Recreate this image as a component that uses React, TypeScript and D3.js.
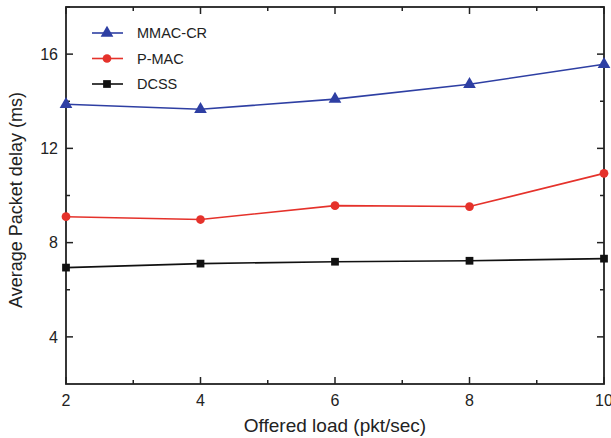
import React, { useRef, useEffect } from 'react';
import * as d3 from 'd3';

const loads = [2, 4, 6, 8, 10];
const mmacCr = [13.87, 13.66, 14.09, 14.72, 15.57];
const pMac = [9.1, 8.98, 9.57, 9.53, 10.94];
const dcss = [6.94, 7.11, 7.19, 7.23, 7.32];
const xTicks = [2, 4, 6, 8, 10];
const yTicks = [4, 8, 12, 16];

const series = [
    { name: 'MMAC-CR', values: mmacCr, color: '#2e3fa3', symbol: d3.symbolTriangle },
    { name: 'P-MAC', values: pMac, color: '#e5322b', symbol: d3.symbolCircle },
    { name: 'DCSS', values: dcss, color: '#111111', symbol: d3.symbolSquare },
];

const App: React.FC = () => {
    const svgRef = useRef<SVGSVGElement | null>(null);
    const width = 611;
    const height = 438;

    useEffect(() => {
        const svg = d3.select(svgRef.current);
        svg.selectAll('*').remove();
        const margin = { top: 7, right: 7, bottom: 54, left: 66 };
        const w = width - margin.left - margin.right;
        const h = height - margin.top - margin.bottom;
        const font = '"Liberation Sans", Arial, sans-serif';

        const g = svg.append('g').attr('transform', `translate(${margin.left},${margin.top})`);

        const x = d3.scaleLinear().domain([2, 10]).range([0, w]);
        const y = d3.scaleLinear().domain([2, 18]).range([h, 0]);

        const minorX = d3.range(3, 10, 2);
        const minorY = [6, 10, 14, 18];

        // frame
        g.append('rect').attr('width', w).attr('height', h)
            .attr('fill', 'none').attr('stroke', '#222').attr('stroke-width', 1.8);

        const tick = (x1: number, y1: number, x2: number, y2: number) =>
            g.append('line').attr('x1', x1).attr('y1', y1).attr('x2', x2).attr('y2', y2)
                .attr('stroke', '#222').attr('stroke-width', 1.5);

        xTicks.forEach(v => { tick(x(v), h, x(v), h - 7); tick(x(v), 0, x(v), 7); });
        minorX.forEach(v => { tick(x(v), h, x(v), h - 4); tick(x(v), 0, x(v), 4); });
        yTicks.forEach(v => { tick(0, y(v), 7, y(v)); tick(w, y(v), w - 7, y(v)); });
        minorY.forEach(v => { tick(0, y(v), 4, y(v)); tick(w, y(v), w - 4, y(v)); });

        g.selectAll('.xl').data(xTicks).enter().append('text')
            .attr('x', d => x(d)).attr('y', h + 22)
            .attr('text-anchor', 'middle').style('font-family', font).style('font-size', '16px')
            .attr('fill', '#222').text(d => d);

        g.selectAll('.yl').data(yTicks).enter().append('text')
            .attr('x', -8).attr('y', d => y(d)).attr('dy', '0.36em')
            .attr('text-anchor', 'end').style('font-family', font).style('font-size', '16px')
            .attr('fill', '#222').text(d => d);

        svg.append('text')
            .attr('x', 335).attr('y', 432)
            .attr('text-anchor', 'middle').style('font-family', font).style('font-size', '19px')
            .attr('fill', '#222').text('Offered load (pkt/sec)');

        svg.append('text')
            .attr('transform', `translate(22,200) rotate(-90)`)
            .attr('text-anchor', 'middle').style('font-family', font).style('font-size', '18px')
            .attr('fill', '#222').text('Average Packet delay (ms)');

        const plot = g.append('g');
        series.forEach(s => {
            const pts = loads.map((l, i) => [l, s.values[i]] as [number, number]);
            const line = d3.line<[number, number]>().x(d => x(d[0])).y(d => y(d[1]));
            plot.append('path').datum(pts).attr('d', line)
                .attr('fill', 'none').attr('stroke', s.color).attr('stroke-width', 1.6);
            plot.selectAll(null).data(pts).enter().append('path')
                .attr('transform', d => `translate(${x(d[0])},${y(d[1])})`)
                .attr('d', d3.symbol().type(s.symbol).size(s.symbol === d3.symbolTriangle ? 70 : 60)())
                .attr('fill', s.color);
        });

        // legend
        const leg = g.append('g');
        series.forEach((s, i) => {
            const ly = 26 + i * 25.5;
            leg.append('line').attr('x1', 26).attr('x2', 57).attr('y1', ly).attr('y2', ly)
                .attr('stroke', s.color).attr('stroke-width', 1.6);
            leg.append('path').attr('transform', `translate(41,${ly})`)
                .attr('d', d3.symbol().type(s.symbol).size(s.symbol === d3.symbolTriangle ? 70 : 60)())
                .attr('fill', s.color);
            leg.append('text').attr('x', 71).attr('y', ly).attr('dy', '0.36em')
                .style('font-family', font).style('font-size', '14.5px').attr('fill', '#222')
                .text(s.name);
        });
    }, []);

    return <svg ref={svgRef} width={width} height={height} style={{ position: 'absolute', left: 0, top: 0 }} />;
};

export default App;
